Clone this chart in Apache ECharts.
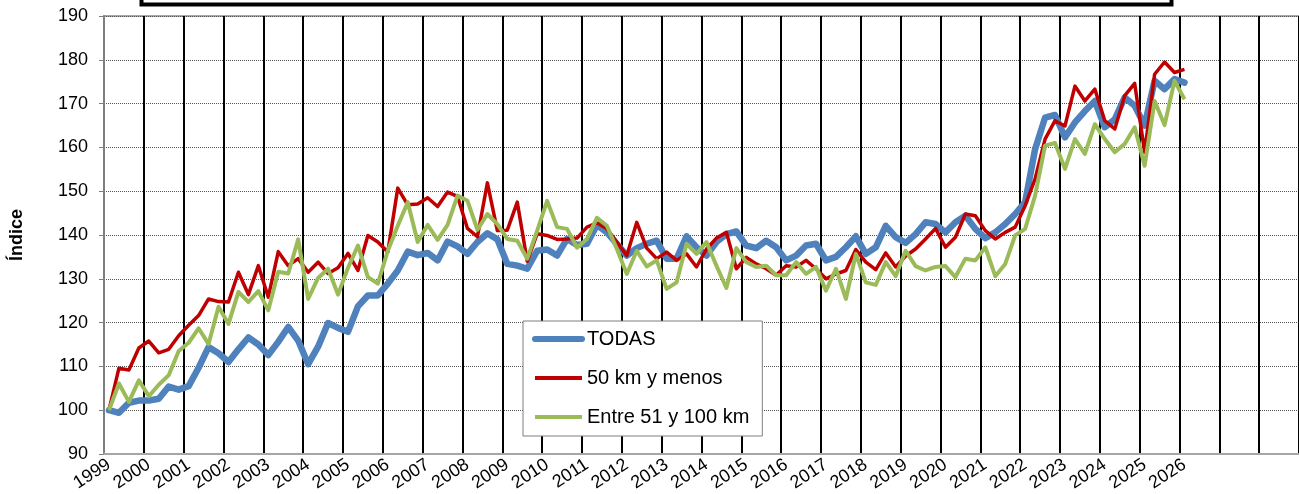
<!DOCTYPE html>
<html><head><meta charset="utf-8">
<script src="https://cdn.jsdelivr.net/npm/echarts@6/dist/echarts.min.js"></script>
<style>html,body{margin:0;padding:0;background:#fff}#c{width:1299px;height:494px}</style>
</head><body><div id="c"></div>
<script>
// Year tick labels shown on the axis
const years = [1999,2000,2001,2002,2003,2004,2005,2006,2007,2008,2009,2010,2011,2012,2013,2014,2015,2016,2017,2018,2019,2020,2021,2022,2023,2024,2025,2026];
// axis runs on past the last label (empty years at the right)
const axisLastYear = 2028;
const quarters = ['T1','T2','T3','T4'];
const yTicks = {min: 90, max: 190, step: 10};
const seriesNames = ['TODAS', '50 km y menos', 'Entre 51 y 100 km'];

// Quarterly index values, 1999 T1 = 100
const todas = [100,99.4,101.7,102.2,102.2,102.6,105.4,104.7,105.5,109.7,114.4,113.0,111.0,113.9,116.6,115.0,112.6,115.6,119.0,115.9,
110.5,114.5,119.9,118.8,117.9,123.7,126.2,126.2,128.9,131.9,136.2,135.4,135.9,134.2,138.5,137.4,135.7,138.4,140.4,139.0,
133.4,133.0,132.3,136.4,136.7,135.3,139.1,137.7,138.0,142.3,140.6,138.0,135.3,137.0,138.0,138.7,134.6,134.6,139.7,137.2,
135.3,138.4,140.2,140.8,137.6,137.0,138.7,137.2,134.2,135.3,137.6,138.0,134.2,135.0,137.2,139.7,135.7,137.2,142.1,139.5,
138.2,140.2,142.9,142.5,140.6,142.9,144.4,141.4,139.3,140.6,142.5,144.8,147.5,159.6,166.8,167.4,162.3,165.7,168.3,170.6,
164.6,166.4,171.4,169.5,165.0,175.2,173.3,175.6,174.8];
const km50 = [100,109.6,109.2,114.2,115.8,113.1,113.9,117.0,119.4,121.6,125.4,124.8,124.7,131.5,126.4,133.0,125.8,136.2,133.0,134.6,
131.5,133.8,131.2,132.5,135.8,131.9,139.9,138.4,136.1,150.7,146.9,147.1,148.5,146.5,149.8,148.8,141.5,139.6,151.9,141.0,
141.1,147.5,134.0,140.3,139.9,139.0,139.1,139.3,141.8,142.8,141.4,138.4,135.3,142.9,137.0,134.6,136.1,134.2,135.7,132.7,
136.8,139.3,140.6,132.3,134.9,133.4,132.3,130.8,133.0,132.7,134.2,132.3,130.0,131.1,131.9,136.7,133.8,132.1,135.9,132.7,
135.2,136.8,139.1,141.5,137.2,139.5,144.8,144.4,141.0,139.1,140.6,141.8,146.7,152.8,161.9,166.1,164.9,174.0,170.6,173.3,
166.1,164.2,171.8,174.6,158.9,176.7,179.5,177.1,177.8];
const km51a100 = [100,106.1,101.9,106.8,103.2,105.8,108.0,113.5,115.4,118.7,115.1,123.6,119.7,127.0,124.7,127.2,122.8,131.6,131.2,139.0,
125.4,130.2,132.3,126.4,132.5,137.6,130.4,128.9,136.4,142.1,147.5,138.4,142.3,138.9,142.3,149.0,147.8,141.2,144.8,142.5,
139.1,138.7,134.6,141.0,147.8,141.8,141.4,137.1,139.1,143.9,142.1,136.8,131.1,136.4,132.8,134.2,127.7,129.2,138.0,135.7,
138.4,133.0,127.9,137.0,133.8,132.7,133.0,130.8,130.8,133.8,131.1,132.7,127.3,132.3,125.4,135.7,129.2,128.6,133.8,130.6,
136.4,132.9,131.9,132.7,132.9,130.4,134.6,134.2,137.2,130.6,133.4,139.9,141.4,149.0,160.4,161.0,155.1,161.9,158.5,165.3,
161.9,158.9,160.8,164.6,155.8,170.6,165.1,175.2,171.0];

const categories = [];
for (let y = years[0]; y <= axisLastYear; y++) quarters.forEach(q => categories.push(y + '-' + q));

const FONT = '"Liberation Sans", Arial, sans-serif';
const chart = echarts.init(document.getElementById('c'), null, {renderer: 'canvas'});
chart.setOption({
  animation: false,
  backgroundColor: '#fff',
  textStyle: {fontFamily: FONT},
  graphic: [{
    type: 'rect', left: 139, top: -30, z: 100,
    shape: {x: 0, y: 0, width: 1030, height: 32},
    style: {fill: 'none', stroke: '#000', lineWidth: 4}
  }],
  grid: {left: 104, right: -19, top: 16, bottom: 39, show: true, borderColor: '#a6a6a6', borderWidth: 2, backgroundColor: 'transparent'},
  legend: {
    orient: 'vertical', left: 523, top: 321,
    backgroundColor: '#fff', borderColor: '#7f7f7f', borderWidth: 1,
    padding: [8, 13, 9, 9], itemWidth: 47, itemHeight: 20, itemGap: 19,
    selectedMode: false,
    textStyle: {fontSize: 20, color: '#000', fontFamily: FONT, lineHeight: 20},
    data: [
      {name: seriesNames[0], lineStyle: {width: 6, cap: 'round'}, itemStyle: {opacity: 0}},
      {name: seriesNames[1], lineStyle: {width: 4}, itemStyle: {opacity: 0}},
      {name: seriesNames[2], lineStyle: {width: 4}, itemStyle: {opacity: 0}}
    ]
  },
  xAxis: {
    type: 'category', data: categories, boundaryGap: true,
    axisLine: {show: true, lineStyle: {color: '#a6a6a6', width: 2}},
    axisTick: {show: false},
    axisLabel: {
      interval: 3, rotate: 33, margin: 9, fontSize: 18, color: '#000', fontFamily: FONT,
      formatter: v => { const p = v.split('-'); return (p[1] === 'T1' && years.indexOf(+p[0]) >= 0) ? p[0] : ''; }
    },
    splitLine: {show: true, interval: 3, lineStyle: {color: '#000', width: 2, type: 'solid'}}
  },
  yAxis: {
    type: 'value', min: yTicks.min, max: yTicks.max, interval: yTicks.step,
    name: 'Índice', nameLocation: 'middle', nameGap: 78, nameRotate: 90,
    nameTextStyle: {fontSize: 18, fontWeight: 'bold', color: '#000', fontFamily: FONT},
    axisLine: {show: true, lineStyle: {color: '#7f7f7f', width: 2}},
    axisTick: {show: true, length: 5, lineStyle: {color: '#7f7f7f', width: 1}},
    axisLabel: {fontSize: 18, color: '#000', margin: 16, fontFamily: FONT},
    splitLine: {show: true, lineStyle: {color: '#555', width: 1, type: [1, 1]}}
  },
  series: [
    {name: seriesNames[0], type: 'line', data: todas, symbol: 'none', z: 2,
     lineStyle: {color: '#4F81BD', width: 6.5, cap: 'round', join: 'round'}, itemStyle: {color: '#4F81BD'}},
    {name: seriesNames[1], type: 'line', data: km50, symbol: 'none', z: 3,
     lineStyle: {color: '#C00000', width: 3.5, join: 'round'}, itemStyle: {color: '#C00000'}},
    {name: seriesNames[2], type: 'line', data: km51a100, symbol: 'none', z: 4,
     lineStyle: {color: '#9BBB59', width: 4, join: 'round'}, itemStyle: {color: '#9BBB59'}}
  ]
});
</script></body></html>
